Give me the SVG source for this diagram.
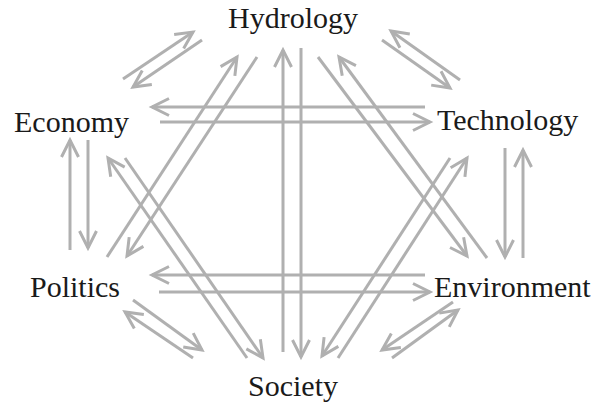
<svg xmlns="http://www.w3.org/2000/svg" width="595" height="406" viewBox="0 0 595 406">
<defs>
<marker id="ah" markerUnits="userSpaceOnUse" orient="auto" markerWidth="30" markerHeight="30" refX="0" refY="0" viewBox="-20 -15 30 30" overflow="visible">
<path d="M-17,-8.5 L0,0 L-17,8.5" fill="none" stroke="#b0b0b0" stroke-width="3" stroke-linecap="butt" stroke-linejoin="miter"/>
</marker>
</defs>
<style>
.lbl{font-family:"Liberation Serif","Times New Roman",serif;font-size:30px;fill:#1a1a1a}
.c line{stroke:#b0b0b0;stroke-width:3;fill:none;marker-end:url(#ah)}
</style>
<rect width="595" height="406" fill="#ffffff"/>
<g id="connectors" class="c">
<line x1="123" y1="79" x2="193" y2="32"/>
<line x1="202" y1="40" x2="133" y2="87"/>
<line x1="460" y1="80" x2="391" y2="31"/>
<line x1="382" y1="40" x2="450" y2="88"/>
<line x1="425" y1="107" x2="152" y2="107"/>
<line x1="160" y1="122" x2="430" y2="122"/>
<line x1="283" y1="352" x2="283" y2="50"/>
<line x1="301" y1="48" x2="301" y2="357"/>
<line x1="107" y1="257" x2="237" y2="57"/>
<line x1="257" y1="57" x2="127" y2="256"/>
<line x1="318" y1="57" x2="467" y2="256"/>
<line x1="487" y1="258" x2="339" y2="57"/>
<line x1="338" y1="358" x2="467" y2="158"/>
<line x1="450" y1="158" x2="322" y2="356"/>
<line x1="247" y1="358" x2="108" y2="158"/>
<line x1="125" y1="158" x2="263" y2="358"/>
<line x1="70" y1="250" x2="70" y2="140"/>
<line x1="88" y1="140" x2="88" y2="248"/>
<line x1="505" y1="148" x2="505" y2="257"/>
<line x1="523" y1="258" x2="523" y2="150"/>
<line x1="425" y1="275" x2="152" y2="275"/>
<line x1="159" y1="292" x2="430" y2="292"/>
<line x1="193" y1="358" x2="125" y2="312"/>
<line x1="133" y1="300" x2="202" y2="350"/>
<line x1="453" y1="302" x2="382" y2="350"/>
<line x1="392" y1="358" x2="458" y2="310"/>
</g>
<g id="hydrology"><text class="lbl" x="228" y="28">Hydrology</text></g>
<g id="economy"><text class="lbl" x="14" y="132">Economy</text></g>
<g id="technology"><text class="lbl" x="437" y="130">Technology</text></g>
<g id="politics"><text class="lbl" x="30" y="297">Politics</text></g>
<g id="environment"><text class="lbl" x="434" y="297">Environment</text></g>
<g id="society"><text class="lbl" x="248" y="396">Society</text></g>
</svg>
